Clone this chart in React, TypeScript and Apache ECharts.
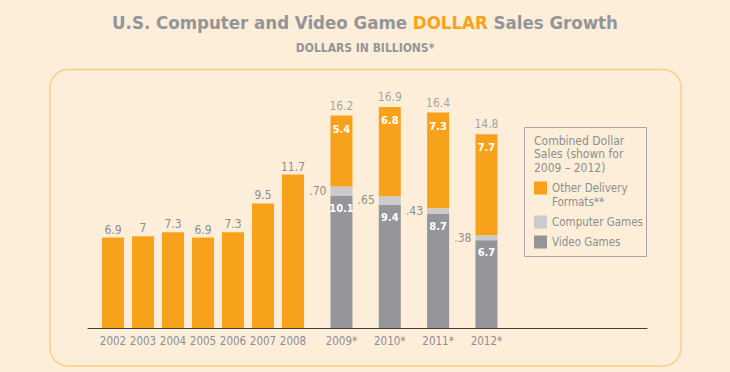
import React, { useEffect, useRef } from "react";
import * as echarts from "echarts";

const years1 = ["2002", "2003", "2004", "2005", "2006", "2007", "2008"];
const sales1 = [6.9, 7, 7.3, 6.9, 7.3, 9.5, 11.7];
const years2 = ["2009*", "2010*", "2011*", "2012*"];
const videoGames = [10.1, 9.4, 8.7, 6.7];
const computerGames = [0.7, 0.65, 0.43, 0.38];
const otherFormats = [5.4, 6.8, 7.3, 7.7];
const totals = [16.2, 16.9, 16.4, 14.8];

const ORANGE = "#F8A21C";
const DARK = "#939598";
const LIGHT = "#CACBCD";
const TEXT = "#8C8E90";
const BG = "#FDEEDA";
const FONT = '"Liberation Sans Narrow", "DejaVu Sans Condensed", "Roboto Condensed", "Arial Narrow", sans-serif';

const OTHER = "Other Delivery Formats**";
const COMP = "Computer Games";
const VIDEO = "Video Games";

export default function App() {
  const ref = useRef<HTMLDivElement>(null);
  useEffect(() => {
    document.body.style.margin = "0";
    document.body.style.background = BG;
    const chart = echarts.init(ref.current!, null, { renderer: "svg" });
    const top = 92;
    const bottom = 44;
    const yMax = 18;
    const labelBase = { fontFamily: FONT, color: TEXT, fontSize: 12 };
    const inner = { fontFamily: FONT, color: "#fff", fontSize: 11, fontWeight: "bold" as const };
    chart.setOption({
      animation: false,
      backgroundColor: BG,
      textStyle: { fontFamily: FONT },
      title: [
        {
          text: "{g|U.S. Computer and Video Game }{o|DOLLAR}{g| Sales Growth}",
          left: "center",
          top: 8,
          textStyle: {
            rich: {
              g: { fontFamily: FONT, fontSize: 18.5, fontWeight: "bold", color: DARK },
              o: { fontFamily: FONT, fontSize: 18.5, fontWeight: "bold", color: ORANGE },
            },
          },
        },
        {
          text: "DOLLARS IN BILLIONS*",
          left: "center",
          top: 37,
          textStyle: { fontFamily: FONT, fontSize: 12, fontWeight: "bold", color: DARK },
        },
      ],
      grid: [
        { left: 98, width: 210, top, bottom },
        { left: 317.3, width: 193.3, top, bottom },
        { left: 88, width: 559, top, bottom },
      ],
      xAxis: [
        {
          type: "category", gridIndex: 0, data: years1,
          axisLine: { show: false }, axisTick: { show: false },
          axisLabel: { ...labelBase, fontSize: 11.5, margin: 7, interval: 0 },
        },
        {
          type: "category", gridIndex: 1, data: years2,
          axisLine: { show: false }, axisTick: { show: false },
          axisLabel: { ...labelBase, fontSize: 11.5, margin: 7, interval: 0 },
        },
        {
          type: "category", gridIndex: 2, data: [""],
          axisLine: { show: true, lineStyle: { color: "#3d3d3d", width: 1.2 } },
          axisTick: { show: false }, axisLabel: { show: false },
        },
      ],
      yAxis: [0, 1, 2].map((i) => ({
        type: "value", gridIndex: i, min: 0, max: yMax, show: false,
        splitLine: { show: false },
      })),
      legend: {
        orient: "vertical",
        left: 534,
        top: 167,
        padding: 0,
        itemWidth: 13,
        itemHeight: 13,
        itemGap: 6,
        icon: "rect",
        textStyle: { fontFamily: FONT, fontSize: 11.5, color: TEXT, lineHeight: 14 },
        formatter: (n: string) => (n === OTHER ? "\nOther Delivery\nFormats**" : n),
        data: [{ name: OTHER }, { name: COMP }, { name: VIDEO }],
      },
      graphic: [
        {
          type: "rect", z: -10, silent: true,
          shape: { x: 50, y: 69.5, width: 631, height: 296.5, r: 18 },
          style: { fill: "none", stroke: "#FCCD88", lineWidth: 1.5 },
        },
        {
          type: "rect", z: -10, silent: true,
          shape: { x: 524.5, y: 127.5, width: 122, height: 129 },
          style: { fill: "none", stroke: "#A7A7A7", lineWidth: 1 },
        },
        {
          type: "text", left: 534, top: 134, silent: true,
          style: {
            text: "Combined Dollar\nSales (shown for\n2009 – 2012)",
            fontFamily: FONT, fontSize: 12, lineHeight: 13.5, fill: TEXT,
          },
        },
      ],
      series: [
        {
          name: "Sales", type: "bar", xAxisIndex: 0, yAxisIndex: 0,
          data: sales1, barWidth: 22, itemStyle: { color: ORANGE },
          label: { show: true, position: "top", distance: 2, ...labelBase },
        },
        {
          name: VIDEO, type: "bar", xAxisIndex: 1, yAxisIndex: 1, stack: "s",
          data: videoGames, barWidth: 22, itemStyle: { color: DARK },
          label: { show: true, position: "insideTop", distance: 7, ...inner },
        },
        {
          name: COMP, type: "bar", xAxisIndex: 1, yAxisIndex: 1, stack: "s",
          data: computerGames, barWidth: 22, itemStyle: { color: LIGHT },
          label: {
            show: true, position: "left", distance: 4, ...labelBase,
            formatter: (p: any) => Number(p.value).toFixed(2).replace(/^0/, ""),
          },
        },
        {
          name: OTHER, type: "bar", xAxisIndex: 1, yAxisIndex: 1, stack: "s",
          data: otherFormats, barWidth: 22, itemStyle: { color: ORANGE },
          label: { show: true, position: "insideTop", distance: 8, ...inner },
        },
        {
          name: "Total", type: "scatter", xAxisIndex: 1, yAxisIndex: 1,
          data: totals, symbolSize: 1, itemStyle: { color: "rgba(0,0,0,0)" }, silent: true,
          label: { show: true, position: "top", distance: 3, ...labelBase },
        },
      ],
    });
    return () => chart.dispose();
  }, []);
  return <div ref={ref} style={{ width: 730, height: 372 }} />;
}
